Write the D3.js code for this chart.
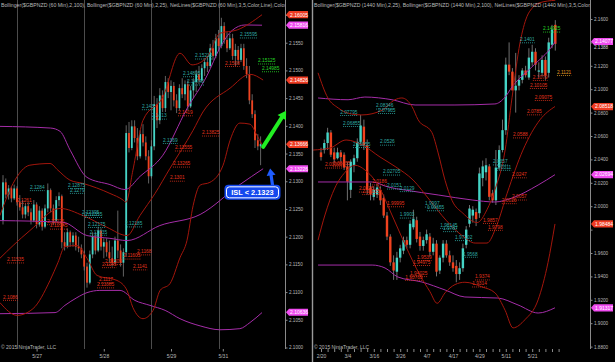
<!DOCTYPE html>
<html>
<head>
<meta charset="utf-8">
<script src="https://cdn.jsdelivr.net/npm/d3@7"></script>
<style>
  body { margin: 0; background: #000; }
  svg { display: block; }
  text { font-family: "Liberation Sans", Arial, sans-serif; }
</style>
</head>
<body>
<div class="canvas"></div>
<script>
// ---- left pane: 60 min bars [open, high, low, close]
const leftBars = [
  [2.1229,2.1311,2.1222,2.1298],[2.1298,2.1305,2.1269,2.1276],[2.1276,2.1293,2.1267,2.1287],[2.1287,2.1291,2.1262,2.1269],
  [2.1269,2.1294,2.1266,2.1287],[2.1287,2.1291,2.1256,2.1262],[2.1262,2.1275,2.1247,2.1253],[2.1253,2.1266,2.1233,2.1240],
  [2.1240,2.1260,2.1233,2.1255],[2.1255,2.1262,2.1237,2.1244],[2.1244,2.1251,2.1222,2.1229],[2.1229,2.1266,2.1226,2.1258],
  [2.1258,2.1262,2.1215,2.1222],[2.1222,2.1255,2.1218,2.1247],[2.1247,2.1251,2.1211,2.1218],[2.1218,2.1258,2.1215,2.1251],
  [2.1251,2.1296,2.1244,2.1284],[2.1284,2.1287,2.1244,2.1251],[2.1251,2.1258,2.1222,2.1229],[2.1229,2.1273,2.1226,2.1266],
  [2.1266,2.1280,2.1255,2.1273],[2.1273,2.1276,2.1179,2.1190],[2.1190,2.1208,2.1175,2.1182],[2.1182,2.1215,2.1179,2.1208],
  [2.1208,2.1211,2.1182,2.1190],[2.1190,2.1208,2.1182,2.1202],[2.1202,2.1208,2.1175,2.1182],[2.1182,2.1200,2.1172,2.1179],
  [2.1179,2.1186,2.1161,2.1168],[2.1168,2.1175,2.1139,2.1146],[2.1146,2.1153,2.1108,2.1117],[2.1117,2.1175,2.1114,2.1168],
  [2.1168,2.1208,2.1161,2.1200],[2.1200,2.1208,2.1168,2.1175],[2.1175,2.1218,2.1172,2.1211],[2.1211,2.1215,2.1175,2.1182],
  [2.1182,2.1197,2.1161,2.1190],[2.1190,2.1197,2.1164,2.1172],[2.1172,2.1193,2.1153,2.1161],[2.1161,2.1182,2.1146,2.1153],
  [2.1153,2.1200,2.1150,2.1193],[2.1193,2.1247,2.1161,2.1175],[2.1175,2.1186,2.1146,2.1153],[2.1153,2.1179,2.1128,2.1172],
  [2.1172,2.1401,2.1164,2.1387],[2.1387,2.1407,2.1352,2.1360],[2.1360,2.1410,2.1356,2.1399],[2.1399,2.1410,2.1370,2.1378],
  [2.1378,2.1396,2.1338,2.1345],[2.1345,2.1392,2.1341,2.1385],[2.1385,2.1403,2.1363,2.1370],[2.1370,2.1381,2.1338,2.1345],
  [2.1345,2.1356,2.1296,2.1309],[2.1309,2.1374,2.1305,2.1363],[2.1363,2.1454,2.1356,2.1439],[2.1439,2.1450,2.1396,2.1410],
  [2.1410,2.1468,2.1403,2.1455],[2.1455,2.1464,2.1425,2.1432],[2.1432,2.1490,2.1425,2.1479],[2.1479,2.1486,2.1450,2.1461],
  [2.1461,2.1482,2.1428,2.1472],[2.1472,2.1479,2.1435,2.1446],[2.1446,2.1457,2.1423,2.1432],[2.1432,2.1475,2.1428,2.1468],
  [2.1468,2.1486,2.1450,2.1457],[2.1457,2.1482,2.1446,2.1475],[2.1475,2.1482,2.1428,2.1435],[2.1435,2.1472,2.1432,2.1464],
  [2.1464,2.1486,2.1450,2.1479],[2.1479,2.1501,2.1461,2.1493],[2.1493,2.1508,2.1475,2.1482],[2.1482,2.1511,2.1479,2.1504],
  [2.1504,2.1522,2.1490,2.1515],[2.1515,2.1526,2.1497,2.1508],[2.1508,2.1548,2.1504,2.1540],[2.1540,2.1555,2.1519,2.1526],
  [2.1526,2.1566,2.1522,2.1558],[2.1558,2.1573,2.1537,2.1544],[2.1544,2.1595,2.1540,2.1580],[2.1580,2.1587,2.1548,2.1555],
  [2.1555,2.1569,2.1533,2.1540],[2.1540,2.1566,2.1537,2.1558],[2.1558,2.1566,2.1519,2.1526],[2.1526,2.1548,2.1508,2.1537],
  [2.1537,2.1544,2.1511,2.1519],[2.1519,2.1548,2.1515,2.1540],[2.1540,2.1548,2.1501,2.1508],[2.1508,2.1522,2.1486,2.1493],
  [2.1493,2.1508,2.1439,2.1446],[2.1446,2.1457,2.1414,2.1421],[2.1421,2.1428,2.1360,2.1374],[2.1374,2.1385,2.1356,2.1363],
  [2.1363,2.1381,2.1329,2.1367]
];

// bollinger lines, [bar index, price]
const upper25L = [[-1.1,2.1238],[3.6,2.1296],[9.6,2.1329],[16.8,2.1332],[19.6,2.132],[23.9,2.1302],[28.6,2.1296],[38.2,2.1278],[42.9,2.1266],[43.9,2.1262],[46.4,2.132],[50,2.141],[57.1,2.1452],[63.2,2.1531],[67.5,2.151],[72.9,2.1524],[77.5,2.1567],[83.6,2.1573],[92.5,2.16005]];
const middle25L = [[-1.1,2.1161],[3.6,2.1184],[9.6,2.1211],[20.4,2.1251],[28.6,2.1238],[37.1,2.1217],[44.3,2.1202],[48.9,2.1238],[54.3,2.1278],[59.6,2.1323],[67.9,2.1392],[71.4,2.1425],[81.1,2.1468],[88.2,2.1493],[92.9,2.14826]];
const lower25L = [[-1.1,2.1081],[5,2.1058],[10.7,2.107],[16.8,2.1121],[19.6,2.1153],[22.1,2.1182],[26.4,2.1184],[30,2.1161],[33.6,2.113],[40.7,2.1121],[44.3,2.1103],[46.4,2.1072],[50,2.1052],[53.6,2.1067],[56.1,2.1103],[59.6,2.1115],[63.2,2.1162],[65.7,2.1193],[67.9,2.1256],[70.4,2.1293],[73.9,2.1298],[78.6,2.1329],[81.1,2.1374],[84.6,2.1405],[88.2,2.1403],[90.7,2.1383],[92.5,2.1366]];
const upper100L = [[-1.1,2.1399],[17,2.1396],[20.4,2.139],[24,2.1356],[30,2.1307],[38.2,2.1294],[43.6,2.1285],[49,2.1309],[57.1,2.1347],[65.7,2.1431],[72.9,2.1491],[77.5,2.1541],[81.8,2.1572],[86.4,2.1582],[92.5,2.15816]];
const middle100L = [[-1.1,2.1229],[21.4,2.1226],[30,2.1202],[38.2,2.1197],[44.3,2.1193],[56,2.122],[70.4,2.124],[84.6,2.1294],[92.9,2.13226]];
const lower100L = [[-1.1,2.1061],[18.6,2.1063],[22.1,2.1076],[26.4,2.109],[30,2.1099],[34.6,2.1103],[41.8,2.1103],[47.1,2.1085],[52.5,2.1076],[57.9,2.1067],[63.2,2.1052],[70.4,2.1039],[77.5,2.1032],[84.6,2.1034],[88.2,2.1045],[92.5,2.1063]];

// NetLines marks: [text, bar index, kind]
const leftLabels = [
  ["2.1284",9.6,"hi"],["2.1261",5,"lo"],["2.12875",23.2,"hi"],["2.1279",23.9,"hi"],["2.12395",28.2,"hi"],["2.12355",29.3,"hi"],
  ["2.12175",30.4,"hi"],["2.12035",31,"hi"],["2.12225",15.7,"lo"],["2.12145",16.8,"lo"],["2.12185",43.6,"hi"],["2.11535",1.4,"lo"],
  ["2.1086",0,"lo"],["2.1168",47.9,"lo"],["2.11605",43,"lo"],["2.11505",36.4,"lo"],["2.1145",35.4,"lo"],["2.1141",46.4,"lo"],
  ["2.1117",34.3,"lo"],["2.11085",33.6,"lo"],["2.1369",57.1,"hi"],["2.13555",61.4,"lo"],["2.13265",60.7,"lo"],["2.1301",59.6,"lo"],
  ["2.13825",71.1,"lo"],["2.1413",53.2,"hi"],["2.143",49.6,"hi"],["2.1419",62.5,"lo"],["2.14895",64.3,"hi"],["2.14745",65.7,"hi"],
  ["2.15215",68.6,"hi"],["2.1508",79.3,"lo"],["2.15595",84.6,"hi"],["2.15125",91.1,"target"],["2.14985",92.5,"target"]
];
const leftMarkers = [[2.16005,"b25"],[2.15816,"b100"],[2.14826,"b25"],[2.13666,"b25"],[2.13226,"b100"],[2.10636,"b100"]];
const leftTicks = d3.range(2.100, 2.1601, 0.005);
const leftDates = ["5/27","5/28","5/29","5/31"];
const leftDateIdx = [12, 36, 60, 78.5];
const leftGridIdx = [5, 29, 53, 77];

// ---- right pane: 1440 min bars [open, high, low, close]
const rightBars = [
  [2.046,2.050,2.039,2.042],[2.048,2.057,2.045,2.054],[2.054,2.067,2.048,2.063],[2.063,2.065,2.042,2.044],
  [2.046,2.050,2.037,2.040],[2.041,2.050,2.040,2.046],[2.046,2.048,2.038,2.042],[2.044,2.046,2.031,2.033],
  [2.034,2.038,2.005,2.021],[2.014,2.040,2.007,2.038],[2.035,2.044,2.029,2.041],[2.041,2.058,2.038,2.055],
  [2.055,2.078,2.052,2.069],[2.068,2.074,2.048,2.052],[2.052,2.057,2.010,2.014],[2.016,2.020,2.005,2.010],
  [2.008,2.017,2.005,2.014],[2.010,2.019,2.007,2.016],[2.014,2.017,2.001,2.005],[2.007,2.010,1.990,1.992],
  [1.992,1.995,1.971,1.974],[1.974,1.976,1.949,1.952],[1.952,1.958,1.937,1.945],[1.944,1.961,1.937,1.956],
  [1.956,1.967,1.952,1.964],[1.962,1.974,1.959,1.971],[1.971,1.974,1.964,1.967],[1.967,1.988,1.964,1.985],
  [1.982,1.997,1.980,1.989],[1.988,1.991,1.969,1.972],[1.974,1.978,1.962,1.966],[1.966,1.974,1.962,1.971],
  [1.971,1.980,1.968,1.976],[1.974,1.977,1.957,1.961],[1.961,1.973,1.958,1.968],[1.968,1.971,1.940,1.944],
  [1.945,1.958,1.942,1.956],[1.956,1.971,1.952,1.968],[1.968,1.971,1.956,1.958],[1.958,1.962,1.949,1.952],
  [1.952,1.958,1.944,1.947],[1.949,1.954,1.935,1.942],[1.942,1.952,1.937,1.947],[1.947,1.968,1.944,1.964],
  [1.967,1.983,1.964,1.980],[1.985,2.001,1.982,1.998],[1.992,2.000,1.986,1.997],[1.995,1.998,1.983,1.989],
  [1.994,2.033,1.990,2.028],[2.024,2.039,2.017,2.034],[2.029,2.041,2.022,2.035],[2.034,2.036,2.005,2.008],
  [2.011,2.014,2.003,2.005],[2.005,2.048,2.001,2.033],[2.033,2.052,2.031,2.048],[2.048,2.074,2.046,2.065],
  [2.065,2.127,2.061,2.121],[2.121,2.140,2.112,2.115],[2.115,2.118,2.099,2.099],[2.099,2.131,2.080,2.103],
  [2.103,2.112,2.099,2.108],[2.108,2.118,2.105,2.116],[2.116,2.120,2.110,2.112],[2.110,2.135,2.108,2.127],
  [2.123,2.138,2.120,2.132],[2.132,2.135,2.116,2.121],[2.115,2.123,2.110,2.116],[2.114,2.129,2.111,2.125],
  [2.125,2.128,2.108,2.112],[2.114,2.144,2.110,2.140],[2.138,2.155,2.135,2.151],[2.155,2.159,2.133,2.1388]
];

const upper25R = [[-0.9,2.114],[2.1,2.0925],[5.2,2.084],[8.8,2.079],[12.4,2.078],[18.5,2.082],[22.4,2.091],[24.5,2.0925],[27.6,2.085],[29.4,2.074],[33.6,2.063],[35.5,2.0455],[37.6,2.022],[39.7,2.005],[43,1.994],[47.3,1.986],[50.3,1.997],[52.7,2.014],[55.8,2.048],[57.9,2.093],[60.3,2.1395],[62.4,2.162],[63.9,2.169],[66.4,2.174],[71,2.176]];
const middle25R = [[-2.4,2.048],[2.7,2.0497],[7.6,2.0566],[12.7,2.052],[17.9,2.042],[22.7,2.0335],[27.9,2.0224],[33,2.005],[37.9,1.988],[42.7,1.975],[46.7,1.9685],[50.3,1.9685],[53.3,1.984],[56.4,2.011],[61.2,2.048],[66.4,2.074],[70.9,2.08518]];
const lower25R = [[-0.9,1.971],[1.2,1.9925],[4.2,2.0156],[7.3,2.029],[10.3,2.035],[13.3,2.031],[17.3,2.018],[21.5,1.9925],[25.5,1.967],[30,1.941],[33,1.927],[35.2,1.917],[37.6,1.926],[40.6,1.933],[43.6,1.935],[48.8,1.931],[52.7,1.926],[55.8,1.911],[58.2,1.896],[61.8,1.903],[65.8,1.92],[68.8,1.952],[70.9,1.98484]];
const upper100R = [[-0.9,2.0925],[8.2,2.091],[13.3,2.0933],[21.5,2.091],[28.5,2.0865],[40.6,2.0865],[52.7,2.0874],[55.8,2.0933],[57.9,2.102],[63.9,2.119],[70.3,2.1378],[71,2.14077]];
const middle100R = [[-0.9,2.0207],[15.5,2.0207],[20.3,2.0164],[25.5,2.0138],[35.5,2.0096],[45.8,2.0053],[52.7,2.0036],[57.9,2.007],[65.8,2.0181],[70.9,2.02694]];
const lower100R = [[-0.9,1.9497],[15.5,1.9497],[19.4,1.9472],[23.3,1.9395],[30.6,1.9352],[37.6,1.9284],[43.6,1.9224],[53.6,1.9215],[59.7,1.9156],[65.8,1.9087],[70.9,1.91317]];

const rightLabels = [
  ["2.14925",67.3,"target"],["2.1401",60.3,"hi"],["2.1121",71.5,"stop"],["2.1079",64.2,"lo"],["2.10105",63.3,"lo"],
  ["2.09075",64.8,"lo"],["2.0785",62.4,"lo"],["2.0588",58.2,"lo"],["2.0247",57.9,"lo"],["2.0357",52.1,"hi"],
  ["2.0311",53.3,"hi"],["2.0057",57.9,"lo"],["2.0026",54.8,"lo"],["1.9857",49.1,"lo"],["1.9798",50.6,"lo"],
  ["1.98145",36.1,"hi"],["1.9787",37,"hi"],["1.97102",40.6,"hi"],["1.9568",43,"hi"],["1.9374",46.7,"lo"],
  ["1.9314",45.8,"lo"],["1.9539",29.1,"lo"],["1.94975",27.9,"lo"],["1.94025",27,"lo"],["1.93705",25.5,"lo"],
  ["1.9903",23.9,"hi"],["1.99995",20,"lo"],["1.9997",31.5,"hi"],["1.99655",32.1,"hi"],["2.0151",20,"hi"],
  ["2.0129",23.9,"hi"],["2.0186",15.5,"lo"],["2.0125",11.5,"lo"],["2.01035",12.5,"lo"],["2.02705",18.8,"hi"],
  ["2.03305",1.2,"lo"],["2.03455",3.6,"lo"],["2.05055",9.7,"hi"],["2.0526",17.9,"hi"],["2.06855",6.7,"hi"],
  ["2.08346",16.7,"hi"],["2.07965",17.3,"hi"],["2.07795",5.8,"hi"]
];
const rightMarkers = [[2.14077,"b100"],[2.08518,"b25"],[2.02694,"b100"],[1.98484,"b25"],[1.91317,"b100"]];
const rightLast = 2.1388;
const rightTicks = d3.range(1.88, 2.1601, 0.02);
const rightDates = ["2/20","3/4","3/16","3/26","4/7","4/17","4/29","5/11","5/21"];
const rightDateIdx = [0, 8, 16, 24, 32, 40, 48, 56, 64];

// drawn notes on the 60 min pane
const greenArrow = [[92.9, 2.1362], [101.1, 2.1427]];
const islArrow = [[96.4, 2.1288], [95.4, 2.1323]];
const islNote = ["ISL < 2.1323", 89.1, 2.1280];

const C = {
  up: "#44d4c6", down: "#f0421f", wick: "#8c8c8c",
  b25: "#a3160c", b100: "#a52da8",
  hi: "#2fa9a5", lo: "#e3331d", target: "#26d926", stop: "#e09a22",
  mark25: "#ee3b22", mark100: "#f04cf0",
  text: "#b9b9b9", axis: "#8a8a8a", grid: "#4c4c4c"
};

const width = 615, height = 362, plotBottom = 349;
const svg = d3.select(".canvas").append("svg")
  .attr("width", width).attr("height", height)
  .style("background", "#000");
const defs = svg.append("defs");

function drawPane(p) {
  const x = d3.scaleLinear().domain(p.xDomain).range(p.xRange);
  const y = d3.scaleLinear().domain(p.yDomain).range(p.yRange);

  defs.append("clipPath").attr("id", "clip-" + p.name)
    .append("rect").attr("x", p.left).attr("y", 0)
    .attr("width", p.right - p.left).attr("height", plotBottom + 1);
  const plot = svg.append("g").attr("clip-path", `url(#clip-${p.name})`);

  plot.selectAll("line.grid").data(p.gridIdx).enter().append("line")
    .attr("class", "grid")
    .attr("x1", d => Math.round(x(d)) + 0.5).attr("x2", d => Math.round(x(d)) + 0.5)
    .attr("y1", 0).attr("y2", plotBottom)
    .attr("stroke", C.grid).attr("stroke-width", 1);

  const bars = plot.append("g").selectAll("g").data(p.bars).enter().append("g");
  bars.append("line")
    .attr("x1", (d, i) => x(i)).attr("x2", (d, i) => x(i))
    .attr("y1", d => y(d[1])).attr("y2", d => y(d[2]))
    .attr("stroke", C.wick).attr("stroke-width", p.wick);
  bars.append("rect")
    .attr("x", (d, i) => x(i) - p.body / 2)
    .attr("y", d => y(Math.max(d[0], d[3])))
    .attr("width", p.body)
    .attr("height", d => Math.max(0.8, Math.abs(y(d[0]) - y(d[3]))))
    .attr("fill", d => (d[3] >= d[0] ? C.up : C.down));

  const line = d3.line().x(d => x(d[0])).y(d => y(d[1])).curve(d3.curveMonotoneX);
  p.bands.forEach(([kind, pts]) => {
    plot.append("path").datum(pts)
      .attr("d", line).attr("fill", "none")
      .attr("stroke", C[kind]).attr("stroke-width", 1);
  });

  const marks = plot.append("g").selectAll("g").data(p.labels).enter().append("g");
  marks.append("text")
    .attr("x", d => x(d[1])).attr("y", d => y(+d[0]) - 1.2)
    .attr("font-size", 4.8).attr("fill", d => C[d[2]])
    .text(d => d[0]);
  marks.each(function (d) {
    const g = d3.select(this);
    const w = g.select("text").node().getComputedTextLength();
    g.append("line")
      .attr("x1", x(d[1])).attr("x2", x(d[1]) + w)
      .attr("y1", y(+d[0]) + 0.5).attr("y2", y(+d[0]) + 0.5)
      .attr("stroke", C[d[2]]).attr("stroke-width", 0.8)
      .attr("stroke-dasharray", "1,1");
  });

  plot.append("text").attr("x", p.left + 1).attr("y", 6.5)
    .attr("font-size", 5.2).attr("fill", C.text).text(p.title);
  plot.append("text").attr("x", p.left + 1).attr("y", 348.5)
    .attr("font-size", 5).attr("fill", C.text).text("\u00a9 2015 NinjaTrader, LLC");

  // price axis; tick labels sitting under a badge are covered, as in NinjaTrader
  const covered = v => p.markers.some(m => Math.abs(y(m[0]) - y(v)) < 6) ||
    (p.last !== undefined && Math.abs(y(p.last) + 5 - y(v)) < 6);
  svg.append("line")
    .attr("x1", p.right + 0.5).attr("x2", p.right + 0.5)
    .attr("y1", 0).attr("y2", plotBottom)
    .attr("stroke", C.axis).attr("stroke-width", 1);
  const ya = svg.append("g").attr("transform", `translate(${p.right},0)`)
    .call(d3.axisRight(y).tickValues(p.yTicks)
      .tickFormat(d => (covered(d) ? "" : d3.format(".4f")(d)))
      .tickSize(2.5).tickSizeOuter(0).tickPadding(1.5));
  ya.select(".domain").remove();
  ya.selectAll("line").attr("stroke", C.axis);
  ya.selectAll("text").attr("fill", C.text).attr("font-size", 4.6)
    .attr("font-family", "Liberation Sans, Arial, sans-serif");

  // time axis
  if (p.minorIdx) {
    const mi = svg.append("g").attr("transform", `translate(0,${plotBottom})`)
      .call(d3.axisBottom(x).tickValues(p.minorIdx).tickFormat("").tickSize(3).tickSizeOuter(0));
    mi.select(".domain").remove();
    mi.selectAll("line").attr("stroke", C.axis);
  }
  const xa = svg.append("g").attr("transform", `translate(0,${plotBottom})`)
    .call(d3.axisBottom(x).tickValues(p.dateIdx).tickFormat((d, i) => p.dates[i])
      .tickSize(p.minorIdx ? 0 : 2.5).tickSizeOuter(0).tickPadding(p.minorIdx ? 5 : 2.5));
  xa.select(".domain").remove();
  xa.selectAll("line").attr("stroke", C.axis);
  xa.selectAll("text").attr("fill", C.text).attr("font-size", 5)
    .attr("font-family", "Liberation Sans, Arial, sans-serif");

  // last value badges
  const badge = svg.append("g").selectAll("g").data(p.markers).enter().append("g")
    .attr("transform", d => `translate(${p.right + 1},${y(d[0])})`);
  badge.append("path").attr("d", "M0,0L3,-3.6H22V3.6H3Z")
    .attr("fill", d => (d[1] === "b25" ? C.mark25 : C.mark100));
  badge.append("text").attr("x", 4).attr("y", 1.8)
    .attr("font-size", 5).attr("fill", "#fff")
    .text(d => d[0].toFixed(5));

  if (p.last !== undefined) {
    svg.append("text").attr("x", p.right + 4).attr("y", y(p.last) + 5)
      .attr("font-size", 4.6).attr("fill", "#d8d8d8").text(p.last.toFixed(4));
  }

  return { x, y };
}

const L = drawPane({
  name: "left", left: 0, right: 285,
  xDomain: [0, 92], xRange: [3, 260.6],
  yDomain: [2.10, 2.16], yRange: [347.5, 15],
  bars: leftBars, body: 1.8, wick: 0.7,
  bands: [["b100", upper100L], ["b100", middle100L], ["b100", lower100L],
          ["b25", upper25L], ["b25", middle25L], ["b25", lower25L]],
  labels: leftLabels, markers: leftMarkers, yTicks: leftTicks,
  dates: leftDates, dateIdx: leftDateIdx, gridIdx: leftGridIdx,
  title: "Bollinger($GBPNZD (60 Min),2,100), Bollinger($GBPNZD (60 Min),2,25), NetLines($GBPNZD (60 Min),3,5,Color,Line),Color"
});

const R = drawPane({
  name: "right", left: 313, right: 590,
  xDomain: [0, 71], xRange: [321, 555.3],
  yDomain: [1.88, 2.16], yRange: [346.6, 19],
  bars: rightBars, body: 2.4, wick: 0.8,
  bands: [["b100", upper100R], ["b100", middle100R], ["b100", lower100R],
          ["b25", upper25R], ["b25", middle25R], ["b25", lower25R]],
  labels: rightLabels, markers: rightMarkers, yTicks: rightTicks, last: rightLast,
  dates: rightDates, dateIdx: rightDateIdx, gridIdx: [],
  minorIdx: d3.range(0, 73, 2),
  title: "Bollinger($GBPNZD (1440 Min),2,25), Bollinger($GBPNZD (1440 Min),2,100), NetLines($GBPNZD (1440 Min),3,5,Color,Line)"
});

// pane divider
svg.append("line").attr("x1", 312.5).attr("x2", 312.5).attr("y1", 0).attr("y2", height)
  .attr("stroke", "#9a9a9a").attr("stroke-width", 1.4);

// arrows and the ISL note
function arrow(pts, color, shaft, headLen, headHalf) {
  const [a, b] = pts.map(d => [L.x(d[0]), L.y(d[1])]);
  const len = Math.hypot(b[0] - a[0], b[1] - a[1]);
  const ux = (b[0] - a[0]) / len, uy = (b[1] - a[1]) / len;
  const bx = b[0] - ux * headLen, by = b[1] - uy * headLen;
  svg.append("line").attr("x1", a[0]).attr("y1", a[1]).attr("x2", bx + ux).attr("y2", by + uy)
    .attr("stroke", color).attr("stroke-width", shaft).attr("stroke-linecap", "round");
  svg.append("path")
    .attr("d", `M${b[0]},${b[1]}L${bx - uy * headHalf},${by + ux * headHalf}L${bx + uy * headHalf},${by - ux * headHalf}Z`)
    .attr("fill", color);
}
arrow(greenArrow, "#22ee22", 4, 8, 5);
arrow(islArrow, "#1f5cff", 3.2, 7, 4.5);

const nx = L.x(islNote[1]), ny = L.y(islNote[2]);
svg.append("rect").attr("x", nx - 28).attr("y", ny - 7.5).attr("width", 56).attr("height", 15)
  .attr("rx", 4).attr("fill", "#1448ee");
svg.append("rect").attr("x", nx - 26).attr("y", ny - 5.5).attr("width", 52).attr("height", 11)
  .attr("rx", 3).attr("fill", "#1448ee").attr("stroke", "#ffffff").attr("stroke-width", 1);
svg.append("text").attr("x", nx).attr("y", ny + 2.6).attr("text-anchor", "middle")
  .attr("font-size", 7.4).attr("font-weight", "bold").attr("fill", "#fff").text(islNote[0]);
</script>
</body>
</html>
